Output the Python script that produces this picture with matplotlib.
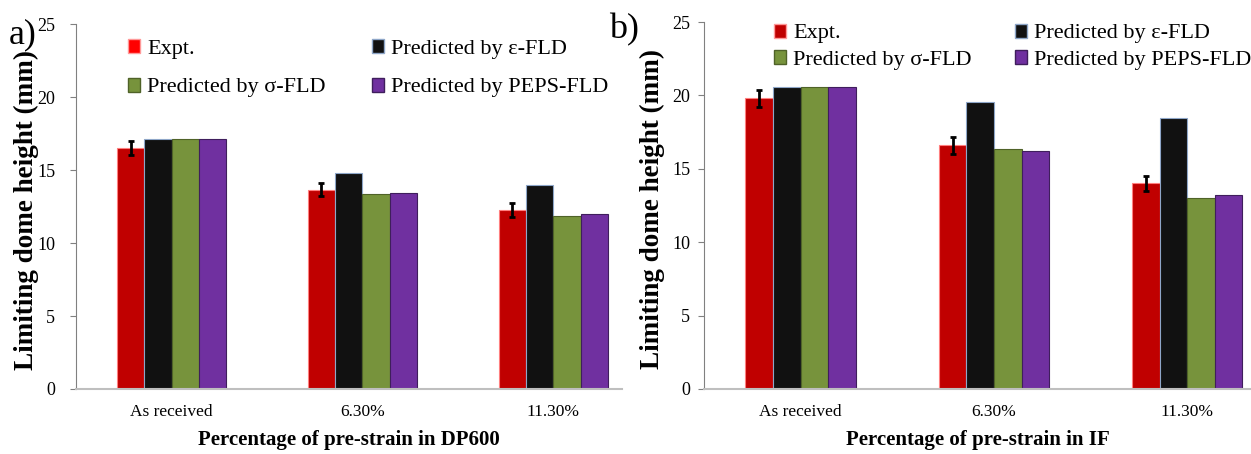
import matplotlib.pyplot as plt
from matplotlib.patches import Patch
import numpy as np

plt.rcParams['font.family'] = ['Liberation Serif', 'DejaVu Serif']

categories = ['As received', '6.30%', '11.30%']
series = ['Expt.', 'Predicted by \u03b5-FLD', 'Predicted by \u03c3-FLD', 'Predicted by PEPS-FLD']

# DP600 (panel a)
dp_expt = [16.53, 13.68, 12.28]
dp_expt_err = [0.45, 0.45, 0.46]
dp_eps = [17.14, 14.82, 14.02]
dp_sigma = [17.14, 13.36, 11.83]
dp_peps = [17.14, 13.47, 11.99]

# IF (panel b)
if_expt = [19.82, 16.59, 14.00]
if_expt_err = [0.58, 0.55, 0.53]
if_eps = [20.60, 19.58, 18.45]
if_sigma = [20.60, 16.34, 13.04]
if_peps = [20.60, 16.22, 13.22]

colors = ['#C00000', '#111111', '#77933C', '#7030A0']
edges = ['#FF7F7F', '#8EA6C8', '#4F6228', '#3F1E5C']

fig = plt.figure(figsize=(12.51, 4.54), dpi=100)


def draw_panel(ax, values, err, xlabel, xmax, legend_red, leg):
    x = np.arange(len(categories))
    w = 0.143
    for i, vals in enumerate(values):
        ax.bar(x + (i - 1.5) * w, vals, w, color=colors[i], edgecolor=edges[i],
               linewidth=0.8, zorder=2)
    ax.errorbar(x - 1.5 * w, values[0], yerr=err, fmt='none', ecolor='black',
                elinewidth=2, capsize=2, capthick=2, zorder=3)
    ax.set_xlim(-0.5, xmax)
    ax.set_ylim(0, 25)
    ax.set_yticks([0, 5, 10, 15, 20, 25])
    ax.set_xticks(x)
    ax.set_xticklabels(categories, fontsize=12.5)
    ax.tick_params(axis='x', length=0, pad=11)
    ax.tick_params(axis='y', length=4, direction='out', labelsize=13,
                   pad=leg['ypad'], color='#808080')
    for s in ['top', 'right']:
        ax.spines[s].set_visible(False)
    ax.spines['left'].set_color('#808080')
    ax.spines['bottom'].set_color('#BFBFBF')
    ax.spines['bottom'].set_linewidth(1.5)
    ax.set_xlabel(xlabel, fontsize=15, fontweight='bold', labelpad=7)
    ax.set_ylabel('Limiting dome height (mm)', fontsize=19.5, fontweight='bold')
    ax.yaxis.set_label_coords(leg['ylx'], 0.49)
    handles = [Patch(facecolor=legend_red, edgecolor='#FF9999'),
               Patch(facecolor=colors[2], edgecolor=edges[2]),
               Patch(facecolor=colors[1], edgecolor=edges[1]),
               Patch(facecolor=colors[3], edgecolor=edges[3])]
    labels = [series[0], series[2], series[1], series[3]]
    ax.legend(handles, labels, ncol=2, loc='upper left', bbox_to_anchor=leg['anchor'],
              frameon=False, fontsize=16, handlelength=0.55, handleheight=0.6,
              handletextpad=0.3, columnspacing=leg['colsp'], labelspacing=leg['sp'],
              borderaxespad=0)


ax1 = fig.add_axes([0.0608, 0.1432, 0.4364, 0.8029])
draw_panel(ax1, [dp_expt, dp_eps, dp_sigma, dp_peps], dp_expt_err,
           'Percentage of pre-strain in DP600', 2.36, '#FF0000',
           {'anchor': (0.079, 0.985), 'colsp': 2.1, 'sp': 0.85, 'ylx': -0.068,
            'ypad': 11})

ax2 = fig.add_axes([0.5628, 0.1432, 0.4372, 0.8083])
draw_panel(ax2, [if_expt, if_eps, if_sigma, if_peps], if_expt_err,
           'Percentage of pre-strain in IF', 2.33, '#C00000',
           {'anchor': (0.112, 1.02), 'colsp': 1.95, 'sp': 0.3, 'ylx': -0.072,
            'ypad': 6})

fig.text(0.007, 0.905, 'a)', fontsize=26)
fig.text(0.487, 0.915, 'b)', fontsize=26)

fig.savefig('out.png', dpi=100)
